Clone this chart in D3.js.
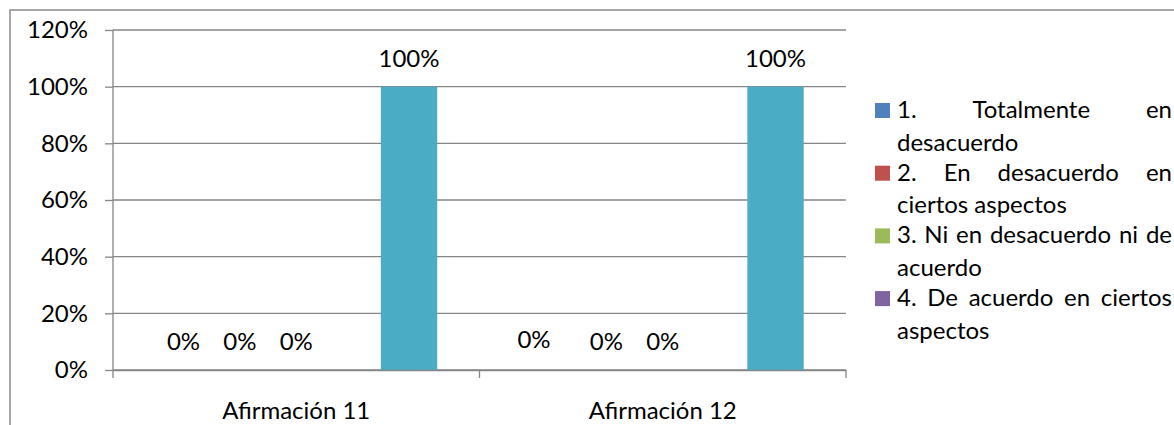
<!DOCTYPE html>
<html>
<head>
<meta charset="utf-8">
<script src="https://cdn.jsdelivr.net/npm/d3@7"></script>
<style>
body { margin: 0; background: #fff; }
svg text { font-family: Lato, "Open Sans", sans-serif; fill: #000; }
</style>
</head>
<body>
<svg id="chart" width="1174" height="425"></svg>
<script>
  // chart data
  var categories = [ "Afirmación 11" , "Afirmación 12" ];
  var seriesNames = [
    "1. Totalmente en desacuerdo",
    "2. En desacuerdo en ciertos aspectos",
    "3. Ni en desacuerdo ni de acuerdo",
    "4. De acuerdo en ciertos aspectos",
    "5. Totalmente de acuerdo"
  ];
  var seriesColors = [ "#4F81BD" , "#C0504D" , "#9BBB59" , "#8064A2" , "#4BACC6" ];
  // one row per series, one value per category
  var values = [
    [ 0 , 0 ],
    [ 0 , 0 ],
    [ 0 , 0 ],
    [ 0 , 0 ],
    [ 1 , 1 ]
  ];
  var hasLabel = [ true , true , true , false , true ];
  var yTicks = [ 0 , 0.2 , 0.4 , 0.6 , 0.8 , 1.0 , 1.2 ];

  var FONT = 24;
  var svg = d3.select( "#chart" );

  // outer chart frame (cut off on the right and bottom)
  svg.append( "path" )
     .attr( "d" , "M10,425V10H1174" )
     .attr( "fill" , "none" )
     .attr( "stroke" , "#8a8a8a" )
     .attr( "stroke-width" , 1.5 );

  var plot = { left : 113 , right : 846 , top : 30 , bottom : 370 };

  var y = d3.scaleLinear().domain( [ 0 , 1.2 ] ).range( [ plot.bottom , plot.top ] );
  var x0 = d3.scaleBand().domain( categories ).range( [ plot.left , plot.right ] );
  var x1 = d3.scaleBand().domain( d3.range( seriesNames.length ) )
             .range( [ 0 , x0.bandwidth() ] ).paddingInner( 0 ).paddingOuter( 0.75 );

  // gridlines
  svg.append( "g" ).selectAll( "line" ).data( yTicks ).join( "line" )
     .attr( "x1" , plot.left ).attr( "x2" , plot.right )
     .attr( "y1" , function( d ) { return y( d ); } )
     .attr( "y2" , function( d ) { return y( d ); } )
     .attr( "stroke" , "#989898" ).attr( "stroke-width" , 1.3 );

  // bars
  var groups = svg.append( "g" ).selectAll( "g" ).data( categories ).join( "g" )
                  .attr( "transform" , function( d ) { return "translate(" + x0( d ) + ",0)"; } );

  groups.each( function( cat , ci ) {
    var g = d3.select( this );
    var rows = values.map( function( v , si ) { return { s : si , v : v[ ci ] }; } );

    g.selectAll( "rect" ).data( rows ).join( "rect" )
     .attr( "x" , function( d ) { return x1( d.s ); } )
     .attr( "width" , x1.bandwidth() )
     .attr( "y" , function( d ) { return y( d.v ); } )
     .attr( "height" , function( d ) { return y( 0 ) - y( d.v ); } )
     .attr( "fill" , function( d ) { return seriesColors[ d.s ]; } );

    g.selectAll( "text" ).data( rows.filter( function( d ) { return hasLabel[ d.s ]; } ) ).join( "text" )
     .attr( "x" , function( d ) {
       // first label of the second group was dragged a bit to the left in the original
       var nudge = ( ci === 1 && d.s === 0 ) ? -16 : 0;
       return x1( d.s ) + x1.bandwidth() / 2 + nudge;
     } )
     .attr( "y" , function( d ) { return y( d.v ) - 20 - ( ci === 1 && d.s === 0 ? 2 : 0 ); } )
     .attr( "text-anchor" , "middle" )
     .style( "font-size" , FONT + "px" )
     .text( function( d ) { return d3.format( ".0%" )( d.v ); } );
  } );

  // y axis
  var yAxis = svg.append( "g" )
                 .attr( "transform" , "translate(" + plot.left + ",0)" )
                 .call( d3.axisLeft( y ).tickValues( yTicks ).tickFormat( d3.format( ".0%" ) )
                          .tickSize( 8 ).tickPadding( 17 ).tickSizeOuter( 0 ) );
  yAxis.selectAll( "text" ).style( "font-size" , FONT + "px" ).attr( "font-family" , null );

  // x axis
  var xAxis = svg.append( "g" )
                 .attr( "transform" , "translate(0," + plot.bottom + ")" )
                 .call( d3.axisBottom( x0 ).tickSize( 0 ).tickPadding( 0 ) );
  xAxis.selectAll( "text" ).style( "font-size" , FONT + "px" ).attr( "dy" , null ).attr( "y" , 49 );
  xAxis.selectAll( ".tick line" ).remove();
  xAxis.append( "g" ).selectAll( "line" )
       .data( [ plot.left ].concat( categories.map( function( c ) { return x0( c ) + x0.bandwidth(); } ) ) )
       .join( "line" )
       .attr( "x1" , function( d ) { return d; } ).attr( "x2" , function( d ) { return d; } )
       .attr( "y1" , 0 ).attr( "y2" , 8 );

  svg.selectAll( ".domain, .tick line, g line" )
     .attr( "stroke" , "#868686" ).attr( "stroke-width" , 1.3 );
  yAxis.select( ".domain" ).attr( "d" , "M0," + plot.bottom + "V" + plot.top );

  // legend, justified text like the original; only four entries fit in the box
  var legend = svg.append( "g" );
  var textX = 897 , textRight = 1172 , lineStep = 32.7 , entryStep = 62.7;

  function measure( str ) {
    var t = legend.append( "text" ).style( "font-size" , FONT + "px" ).text( str );
    var w = t.node().getComputedTextLength();
    t.remove();
    return w;
  }
  var spaceW = measure( "a a" ) - measure( "aa" );

  seriesNames.slice( 0 , 4 ).forEach( function( name , i ) {
    var base = 118 + i * entryStep;
    legend.append( "rect" )
          .attr( "x" , 875 ).attr( "y" , base - 15 )
          .attr( "width" , 15 ).attr( "height" , 15 )
          .attr( "fill" , seriesColors[ i ] );

    // greedy wrap
    var words = name.split( " " ) , lines = [] , cur = [];
    words.forEach( function( w ) {
      var trial = cur.concat( [ w ] ).join( " " );
      if( cur.length && measure( trial ) > textRight - textX ) { lines.push( cur ); cur = [ w ]; }
      else cur.push( w );
    } );
    lines.push( cur );

    lines.forEach( function( ln , li ) {
      var ly = base + li * lineStep;
      var widths = ln.map( measure );
      var gap = spaceW;
      if( li < lines.length - 1 && ln.length > 1 )
        gap = Math.max( spaceW , ( textRight - textX - d3.sum( widths ) ) / ( ln.length - 1 ) );
      var cx = textX;
      ln.forEach( function( w , wi ) {
        legend.append( "text" ).attr( "x" , cx ).attr( "y" , ly )
              .style( "font-size" , FONT + "px" ).text( w );
        cx += widths[ wi ] + gap;
      } );
    } );
  } );
</script>
</body>
</html>
